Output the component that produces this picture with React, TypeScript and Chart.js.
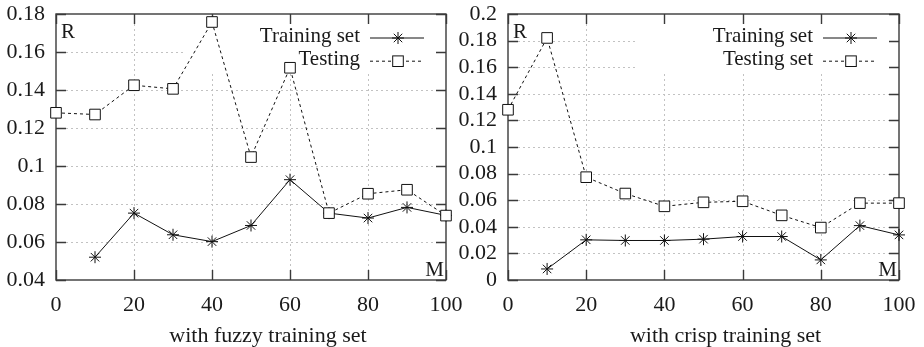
import React, { useEffect, useRef } from "react";
import { Chart, registerables } from "chart.js";

Chart.register(...registerables);

// ---- data ----
const mValues = [0, 10, 20, 30, 40, 50, 60, 70, 80, 90, 100];
const fuzzyTraining = [null, 0.052, 0.0752, 0.0638, 0.0602, 0.0687, 0.0928, 0.0752, 0.0726, 0.0782, 0.074];
const fuzzyTesting = [0.128, 0.1271, 0.1425, 0.1406, 0.1758, 0.1047, 0.1517, 0.0752, 0.0854, 0.0875, 0.0739];
const crispTraining = [null, 0.0083, 0.0302, 0.0297, 0.0297, 0.0307, 0.0327, 0.0327, 0.0151, 0.0409, 0.0339];
const crispTesting = [0.128, 0.182, 0.0773, 0.065, 0.0554, 0.0584, 0.0592, 0.0486, 0.0394, 0.0578, 0.0578];
const xTicks = [0, 20, 40, 60, 80, 100];
const fuzzyYTicks = [0.04, 0.06, 0.08, 0.1, 0.12, 0.14, 0.16, 0.18];
const crispYTicks = [0, 0.02, 0.04, 0.06, 0.08, 0.1, 0.12, 0.14, 0.16, 0.18, 0.2];

const FONT = "'Liberation Serif', 'Times New Roman', serif";
const FONT_SIZE = 21;
const TICK_FONT_SIZE = 22;
const INK = "#1a1a1a";
const FRAME = "#3a3a3a";

type PanelProps = {
  title: string;
  training: (number | null)[];
  testing: (number | null)[];
  trainingLabel: string;
  testingLabel: string;
  yTicks: number[];
  left: number;
  width: number;
  plotLeft: number;
  plotRight: number;
  titleShift: number;
};

function drawStar(ctx: CanvasRenderingContext2D, x: number, y: number, r: number) {
  const d = r * Math.SQRT1_2;
  ctx.beginPath();
  ctx.moveTo(x - r, y); ctx.lineTo(x + r, y);
  ctx.moveTo(x, y - r); ctx.lineTo(x, y + r);
  ctx.moveTo(x - d, y - d); ctx.lineTo(x + d, y + d);
  ctx.moveTo(x - d, y + d); ctx.lineTo(x + d, y - d);
  ctx.stroke();
}

function drawSquare(ctx: CanvasRenderingContext2D, x: number, y: number, r: number) {
  const s = r * Math.SQRT1_2;
  ctx.fillStyle = "#fff";
  ctx.fillRect(x - s, y - s, 2 * s, 2 * s);
  ctx.strokeRect(x - s, y - s, 2 * s, 2 * s);
}

function Panel(p: PanelProps) {
  const ref = useRef<HTMLCanvasElement | null>(null);

  useEffect(() => {
    if (!ref.current) return;
    const keyWidth = 262;
    const keyHeight = 58;

    const decor = {
      id: "decor",
      beforeDatasetsDraw(chart: any) {
        const { ctx, chartArea: a, scales } = chart;
        const xs = scales.x;
        const ys = scales.y;
        // grid
        ctx.save();
        ctx.beginPath();
        ctx.rect(a.left, a.top, a.right - a.left, a.bottom - a.top);
        ctx.rect(a.right - keyWidth, a.top, keyWidth, keyHeight);
        ctx.clip("evenodd");
        ctx.strokeStyle = "#c2c2c2";
        ctx.lineWidth = 1;
        ctx.setLineDash([2, 3]);
        ctx.beginPath();
        xTicks.slice(1, -1).forEach((v) => {
          const px = Math.round(xs.getPixelForValue(v)) + 0.5;
          ctx.moveTo(px, a.top);
          ctx.lineTo(px, a.bottom);
        });
        p.yTicks.slice(1, -1).forEach((v) => {
          const py = Math.round(ys.getPixelForValue(v)) + 0.5;
          ctx.moveTo(a.left, py);
          ctx.lineTo(a.right, py);
        });
        ctx.stroke();
        ctx.restore();

        // frame + inward ticks
        ctx.save();
        ctx.strokeStyle = FRAME;
        ctx.lineWidth = 1.4;
        ctx.strokeRect(a.left, a.top, a.right - a.left, a.bottom - a.top);
        const tl = 10;
        ctx.beginPath();
        xTicks.forEach((v) => {
          const px = Math.round(xs.getPixelForValue(v)) + 0.5;
          ctx.moveTo(px, a.bottom); ctx.lineTo(px, a.bottom - tl);
          ctx.moveTo(px, a.top); ctx.lineTo(px, a.top + tl);
        });
        p.yTicks.forEach((v) => {
          const py = Math.round(ys.getPixelForValue(v)) + 0.5;
          ctx.moveTo(a.left, py); ctx.lineTo(a.left + tl, py);
          ctx.moveTo(a.right, py); ctx.lineTo(a.right - tl, py);
        });
        ctx.stroke();
        ctx.restore();
      },
      afterDraw(chart: any) {
        const { ctx, chartArea: a } = chart;
        ctx.save();
        ctx.fillStyle = INK;
        ctx.font = `${FONT_SIZE}px ${FONT}`;
        ctx.textBaseline = "alphabetic";
        // R and M
        ctx.textAlign = "left";
        ctx.fillText("R", a.left + 5, a.top + 24);
        ctx.textAlign = "right";
        ctx.fillText("M", a.right - 2, a.bottom - 4);
        // legend
        const rows = [
          { label: p.trainingLabel, y: a.top + 23.5, dash: [] as number[], marker: "star" },
          { label: p.testingLabel, y: a.top + 46.7, dash: [3, 3], marker: "rect" },
        ];
        rows.forEach((r) => {
          ctx.fillStyle = INK;
          ctx.textAlign = "right";
          ctx.fillText(r.label, a.right - 86, r.y + 4.5);
          ctx.strokeStyle = "#111";
          ctx.lineWidth = 1;
          ctx.setLineDash(r.dash);
          ctx.beginPath();
          ctx.moveTo(a.right - 76, r.y + 0.5);
          ctx.lineTo(a.right - 22, r.y + 0.5);
          ctx.stroke();
          ctx.setLineDash([]);
          if (r.marker === "star") drawStar(ctx, a.right - 48, r.y + 0.5, 6);
          else drawSquare(ctx, a.right - 48, r.y + 0.5, 7.5);
        });
        // axis title
        ctx.fillStyle = INK;
        ctx.font = `22px ${FONT}`;
        ctx.textAlign = "center";
        ctx.fillText(p.title, (a.left + a.right) / 2 + p.titleShift, 342);
        ctx.restore();
      },
    };

    const toPoints = (arr: (number | null)[]) => mValues.map((m, i) => ({ x: m, y: arr[i] }));

    const chart = new Chart(ref.current, {
      type: "line",
      data: {
        datasets: [
          {
            label: p.testingLabel,
            data: toPoints(p.testing) as any,
            borderColor: "#111",
            borderWidth: 1,
            borderDash: [3, 3],
            pointStyle: "rect",
            pointRadius: 7.5,
            pointBorderWidth: 1,
            pointBorderColor: "#111",
            pointBackgroundColor: "#fff",
            tension: 0,
            clip: false as any,
            order: 0,
          },
          {
            label: p.trainingLabel,
            data: toPoints(p.training) as any,
            borderColor: "#111",
            borderWidth: 1,
            pointStyle: "star",
            pointRadius: 6,
            pointBorderWidth: 1,
            pointBorderColor: "#111",
            pointBackgroundColor: "#111",
            tension: 0,
            clip: false as any,
            order: 1,
          },
        ],
      },
      options: {
        responsive: false,
        animation: false,
        events: [],
        layout: { padding: { left: 0, right: p.width - p.plotRight, top: 14, bottom: 0 } },
        plugins: { legend: { display: false }, tooltip: { enabled: false }, title: { display: false } },
        scales: {
          x: {
            type: "linear",
            min: 0,
            max: 100,
            grid: { display: false, drawTicks: false },
            border: { display: false },
            afterBuildTicks: (s: any) => {
              s.ticks = xTicks.map((v) => ({ value: v }));
            },
            afterFit: (s: any) => {
              s.height = 67;
              s.paddingLeft = 0;
              s.paddingRight = 0;
            },
            ticks: {
              padding: 12,
              color: INK,
              maxRotation: 0,
              autoSkip: false,
              font: { family: FONT, size: TICK_FONT_SIZE },
              callback: (v: any) => String(v),
            },
          },
          y: {
            type: "linear",
            min: p.yTicks[0],
            max: p.yTicks[p.yTicks.length - 1],
            grid: { display: false, drawTicks: false },
            border: { display: false },
            afterBuildTicks: (s: any) => {
              s.ticks = p.yTicks.map((v) => ({ value: v }));
            },
            afterFit: (s: any) => {
              s.width = p.plotLeft;
              s.paddingTop = 0;
              s.paddingBottom = 0;
            },
            ticks: {
              padding: 11,
              color: INK,
              autoSkip: false,
              font: { family: FONT, size: TICK_FONT_SIZE },
              callback: (v: any) => String(parseFloat(Number(v).toFixed(4))),
            },
          },
        },
      },
      plugins: [decor],
    });
    return () => chart.destroy();
  }, []);

  return (
    <canvas
      ref={ref}
      width={p.width}
      height={347}
      style={{ position: "absolute", left: p.left, top: 0, width: p.width, height: 347 }}
    />
  );
}

export default function App() {
  return (
    <div style={{ position: "absolute", left: 0, top: 0, width: 924, height: 347, background: "#fff", overflow: "hidden" }}>
      <Panel
        title="with fuzzy training set"
        training={fuzzyTraining}
        testing={fuzzyTesting}
        trainingLabel="Training set"
        testingLabel="Testing"
        yTicks={fuzzyYTicks}
        left={0}
        width={462}
        plotLeft={56}
        plotRight={446}
        titleShift={17}
      />
      <Panel
        title="with crisp training set"
        training={crispTraining}
        testing={crispTesting}
        trainingLabel="Training set"
        testingLabel="Testing set"
        yTicks={crispYTicks}
        left={448}
        width={476}
        plotLeft={60}
        plotRight={451}
        titleShift={22}
      />
    </div>
  );
}
